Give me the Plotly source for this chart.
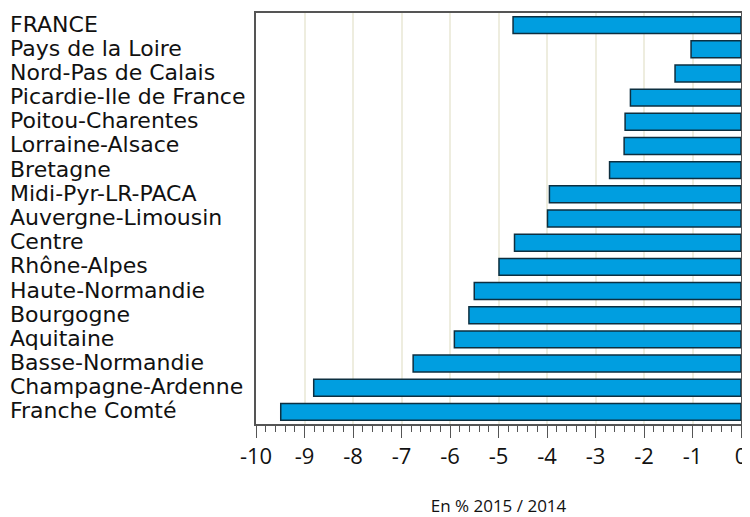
import plotly.graph_objects as go

regions = ["FRANCE", "Pays de la Loire", "Nord-Pas de Calais", "Picardie-Ile de France",
           "Poitou-Charentes", "Lorraine-Alsace", "Bretagne", "Midi-Pyr-LR-PACA",
           "Auvergne-Limousin", "Centre", "Rhône-Alpes", "Haute-Normandie", "Bourgogne",
           "Aquitaine", "Basse-Normandie", "Champagne-Ardenne", "Franche Comté"]
values = [-4.70, -1.03, -1.36, -2.28, -2.39, -2.41, -2.71, -3.95, -3.99, -4.67,
          -4.99, -5.50, -5.61, -5.91, -6.76, -8.81, -9.49]
x_ticks = list(range(-10, 1))
x_title = "En % 2015 / 2014"

FONT = "Open Sans, Noto Sans, sans-serif"
LFONT = "DejaVu Sans, sans-serif"

fig = go.Figure()
fig.add_trace(go.Bar(
    x=values, y=regions, orientation="h", width=0.7,
    marker=dict(color="#009ee0", line=dict(color="#0d2f40", width=1.5)),
    hoverinfo="x+y",
))

for r in regions:
    fig.add_annotation(x=0, xref="paper", y=r, yref="y", text=r, showarrow=False,
                       xanchor="left", xshift=-248, yshift=1,
                       font=dict(family=LFONT, size=22, color="#111111"))

fig.update_layout(
    width=742, height=509,
    margin=dict(l=248, r=7, t=3, b=92),
    paper_bgcolor="white", plot_bgcolor="white",
    showlegend=False,
    font=dict(family=FONT, color="#111111"),
    xaxis=dict(
        range=[-10, 0], tickvals=x_ticks, ticktext=[str(v) for v in x_ticks],
        showgrid=True, gridcolor="#eeeddf", gridwidth=1.5, zeroline=False,
        showline=True, linecolor="#555555", linewidth=1.5, mirror=True,
        ticks="outside", ticklen=12, tickcolor="#555555", tickwidth=1,
        tickfont=dict(family=FONT, size=22, color="#111111"),
        minor=dict(dtick=0.2, tick0=0, ticks="outside", ticklen=6, tickcolor="#555555", showgrid=False),
        title=dict(text=x_title, font=dict(family=FONT, size=17, color="#111111"), standoff=32),
    ),
    yaxis=dict(
        categoryorder="array", categoryarray=list(reversed(regions)),
        range=[-0.5, len(regions) - 0.5],
        showticklabels=False, showgrid=False, zeroline=False,
        showline=True, linecolor="#555555", linewidth=1.5, mirror=True, ticks="",
    ),
)

fig.write_html("out.html")
